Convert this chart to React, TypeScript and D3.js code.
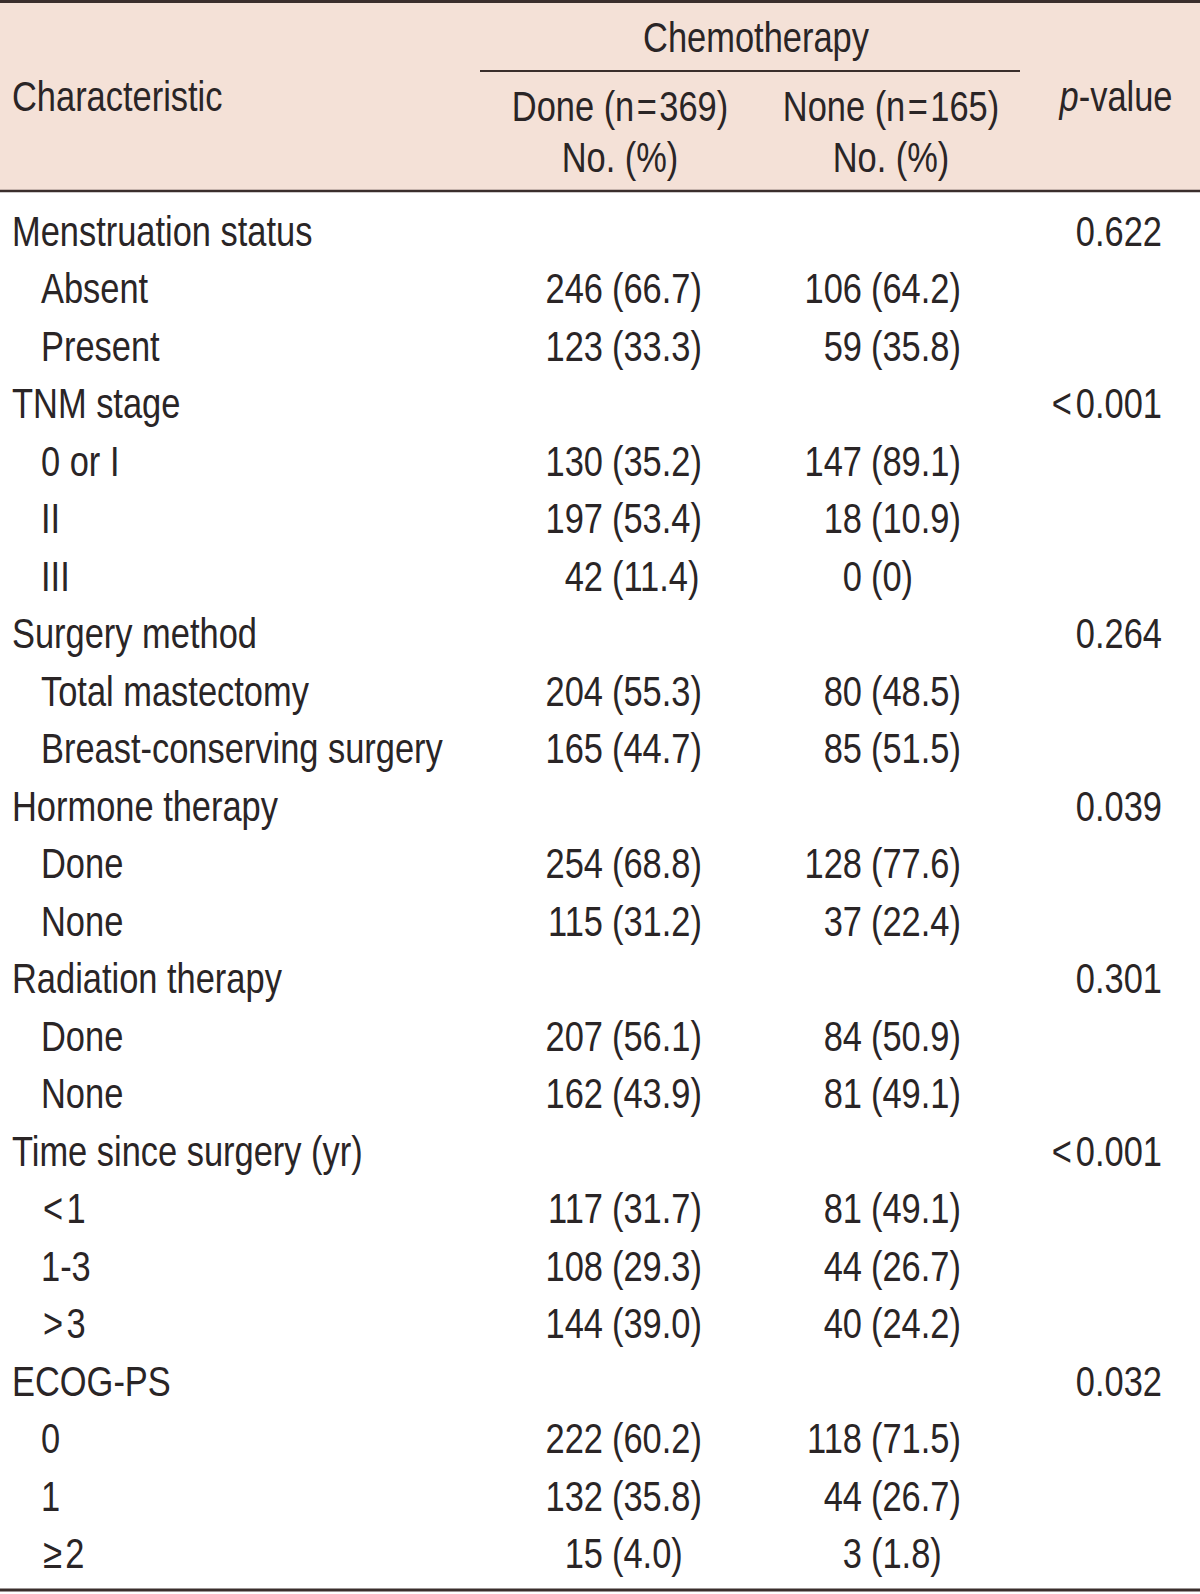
import React from "react";
import * as d3 from "d3";

// ---- Data ----
const groupNames = [
  "Menstruation status",
  "TNM stage",
  "Surgery method",
  "Hormone therapy",
  "Radiation therapy",
  "Time since surgery (yr)",
  "ECOG-PS",
];
const pValues = ["0.622", "<0.001", "0.264", "0.039", "0.301", "<0.001", "0.032"];
const subLabels = [
  ["Absent", "Present"],
  ["0 or I", "II", "III"],
  ["Total mastectomy", "Breast-conserving surgery"],
  ["Done", "None"],
  ["Done", "None"],
  ["<1", "1-3", ">3"],
  ["0", "1", "≥2"],
];
const doneCounts = [
  ["246", "123"],
  ["130", "197", "42"],
  ["204", "165"],
  ["254", "115"],
  ["207", "162"],
  ["117", "108", "144"],
  ["222", "132", "15"],
];
const donePct = [
  ["66.7", "33.3"],
  ["35.2", "53.4", "11.4"],
  ["55.3", "44.7"],
  ["68.8", "31.2"],
  ["56.1", "43.9"],
  ["31.7", "29.3", "39.0"],
  ["60.2", "35.8", "4.0"],
];
const noneCounts = [
  ["106", "59"],
  ["147", "18", "0"],
  ["80", "85"],
  ["128", "37"],
  ["84", "81"],
  ["81", "44", "40"],
  ["118", "44", "3"],
];
const nonePct = [
  ["64.2", "35.8"],
  ["89.1", "10.9", "0"],
  ["48.5", "51.5"],
  ["77.6", "22.4"],
  ["50.9", "49.1"],
  ["49.1", "26.7", "24.2"],
  ["71.5", "26.7", "1.8"],
];
const headerTitle = "Chemotherapy";
const headerChar = "Characteristic";
const headerDone = ["Done (n", "369)"];
const headerNone = ["None (n", "165)"];
const headerUnit = "No. (%)";

// ---- Layout ----
const W = 1200;
const H = 1594;
const FS = 42;
const SX = 0.82;
const INK = "#2a2526";
const RULE = "#3a2e2c";
const HEAD_BG = "#f4e1d7";

const X = {
  label: 12,
  indent: 41,
  doneNumEnd: 603,
  donePctStart: 612,
  noneNumEnd: 862,
  nonePctStart: 871,
  pEnd: 1162,
  doneCenter: 620,
  noneCenter: 891,
  pCenter: 1116,
  chemoL: 480,
  chemoR: 1020,
  chemoCenter: 756,
};

type Row =
  | { kind: "group"; label: string; p: string }
  | { kind: "item"; label: string; dc: string; dp: string; nc: string; np: string };

const rows: Row[] = [];
groupNames.forEach((g, gi) => {
  rows.push({ kind: "group", label: g, p: pValues[gi] });
  subLabels[gi].forEach((s, si) => {
    rows.push({
      kind: "item",
      label: s,
      dc: doneCounts[gi][si],
      dp: donePct[gi][si],
      nc: noneCounts[gi][si],
      np: nonePct[gi][si],
    });
  });
});

const yScale = d3
  .scalePoint<number>()
  .domain(d3.range(rows.length))
  .range([246, 1568]);

function T(props: {
  x: number;
  y: number;
  anchor?: "start" | "middle" | "end";
  italic?: boolean;
  children: React.ReactNode;
}) {
  return (
    <text
      transform={`translate(${props.x},${props.y}) scale(${SX},1)`}
      textAnchor={props.anchor || "start"}
      fontStyle={props.italic ? "italic" : "normal"}
    >
      {props.children}
    </text>
  );
}

export default function App() {
  return (
    <svg
      width={W}
      height={H}
      style={{ position: "absolute", left: 0, top: 0, display: "block", background: "#fff" }}
      fontFamily="'Liberation Sans', Arial, Helvetica, sans-serif"
      fontSize={FS}
      fill={INK}
    >
      <rect x={0} y={0} width={W} height={H} fill="#ffffff" />
      {/* header background */}
      <rect x={0} y={2} width={W} height={189} fill={HEAD_BG} />
      {/* rules */}
      <line x1={0} x2={W} y1={1.5} y2={1.5} stroke={RULE} strokeWidth={3} />
      <line x1={X.chemoL} x2={X.chemoR} y1={71} y2={71} stroke={RULE} strokeWidth={2} />
      <line x1={0} x2={W} y1={191} y2={191} stroke={RULE} strokeWidth={2.5} />
      <line x1={0} x2={W} y1={1590} y2={1590} stroke={RULE} strokeWidth={3} />

      {/* header text */}
      <T x={X.chemoCenter} y={52} anchor="middle">
        {headerTitle}
      </T>
      <T x={X.label} y={111}>
        {headerChar}
      </T>
      <T x={X.doneCenter} y={121} anchor="middle">
        {headerDone[0]}
        <tspan dx={3}>=</tspan>
        <tspan dx={3}>{headerDone[1]}</tspan>
      </T>
      <T x={X.noneCenter} y={121} anchor="middle">
        {headerNone[0]}
        <tspan dx={3}>=</tspan>
        <tspan dx={3}>{headerNone[1]}</tspan>
      </T>
      <T x={X.doneCenter} y={172} anchor="middle">
        {headerUnit}
      </T>
      <T x={X.noneCenter} y={172} anchor="middle">
        {headerUnit}
      </T>
      <T x={X.pCenter} y={111} anchor="middle">
        <tspan fontStyle="italic">p</tspan>-value
      </T>

      {/* body */}
      {rows.map((r, i) => {
        const y = yScale(i) as number;
        if (r.kind === "group") {
          const lt = r.p.startsWith("<");
          return (
            <g key={i}>
              <T x={X.label} y={y}>
                {r.label}
              </T>
              <T x={X.pEnd} y={y} anchor="end">
                {lt ? (
                  <>
                    {"<"}
                    <tspan dx={5}>{r.p.slice(1)}</tspan>
                  </>
                ) : (
                  r.p
                )}
              </T>
            </g>
          );
        }
        const sym = r.label.startsWith("<") || r.label.startsWith(">") || r.label.startsWith("≥");
        return (
          <g key={i}>
            <T x={X.indent + (sym ? 2 : 0)} y={y}>
              {sym ? (
                <>
                  {r.label[0]}
                  <tspan dx={4}>{r.label.slice(1)}</tspan>
                </>
              ) : (
                r.label
              )}
            </T>
            <T x={X.doneNumEnd} y={y} anchor="end">
              {r.dc}
            </T>
            <T x={X.donePctStart} y={y}>
              {`(${r.dp})`}
            </T>
            <T x={X.noneNumEnd} y={y} anchor="end">
              {r.nc}
            </T>
            <T x={X.nonePctStart} y={y}>
              {`(${r.np})`}
            </T>
          </g>
        );
      })}
    </svg>
  );
}
